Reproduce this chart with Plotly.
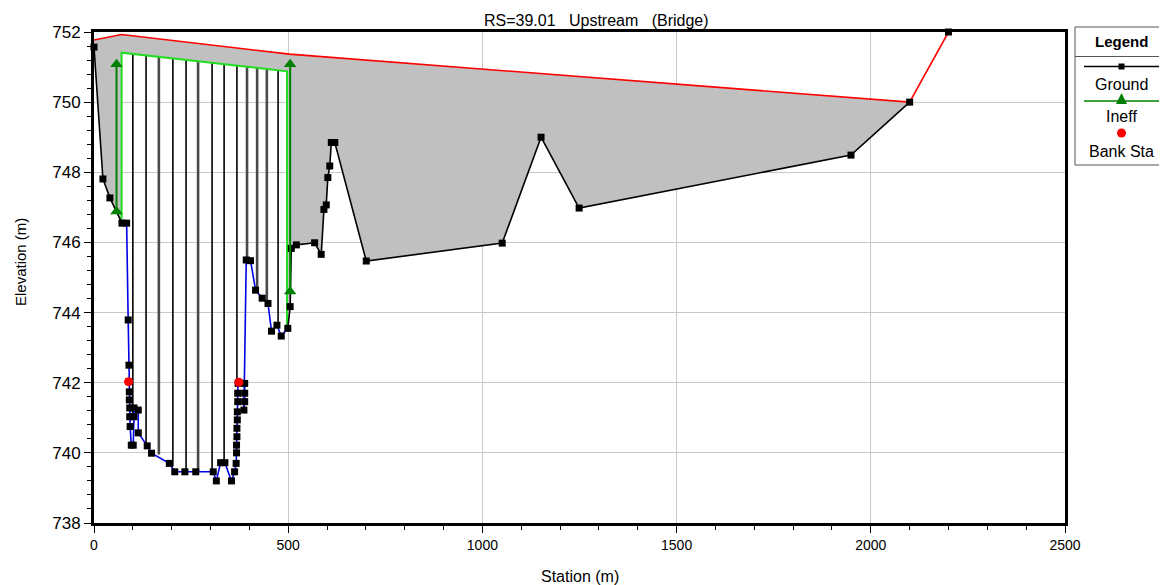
import numpy as np
import plotly.graph_objects as go

# ---------------- data ----------------
ground_station = [0, 23, 41, 72, 84, 88, 90, 90, 91, 91, 92, 92, 93, 96, 101, 103, 103,
                  114, 114, 137, 148, 194, 208, 234, 262, 307, 315, 326, 337, 354, 362,
                  366, 367, 367, 368, 368, 369, 369, 370, 370, 371, 373, 388, 388, 388, 386,
                  392, 403, 416, 433, 448, 457, 471, 482, 499, 505, 508, 521, 568, 585,
                  592, 598, 602, 607, 611, 620, 701, 1051, 1151, 1249, 1949, 2100, 2200]
ground_elev = [751.57, 747.81, 747.27, 746.55, 746.55, 743.79, 742.50, 742.03, 741.74, 741.51,
               741.28, 741.03, 740.75, 740.22, 740.22, 741.03, 741.28,
               741.22, 740.57, 740.20, 739.99, 739.70, 739.46, 739.46, 739.46, 739.46, 739.20,
               739.72, 739.72, 739.20, 739.46,
               739.70, 740.00, 740.22, 740.46, 740.70, 740.94, 741.17, 741.46, 741.70, 741.98,
               742.01, 741.98, 741.70, 741.46, 741.22,
               745.50, 745.48, 744.64, 744.41, 744.26, 743.47, 743.64, 743.33, 743.55, 744.17,
               745.83, 745.93, 745.99, 745.66,
               746.94, 747.07, 747.85, 748.18, 748.85, 748.85, 745.47, 745.98, 749.00, 746.98,
               748.49, 750.00, 752.00]

high_chord_station = [0, 71, 503, 2100, 2200]
high_chord_elev = [751.77, 751.93, 751.37, 750.00, 752.00]

low_chord_station = [71, 497]
low_chord_elev = [751.41, 750.88]
low_chord_ground = [746.55, 743.52]

pier_station = [100, 134, 167, 203, 237, 268, 304, 335, 368, 394, 420, 445, 474]
pier_bottom = [741.10, 740.25, 739.95, 739.62, 739.46, 739.46, 739.46, 739.72, 742.03,
               745.50, 744.60, 744.35, 743.60]
pier_thick = [0, 0, 1, 0, 0, 1, 0, 0, 0, 1, 1, 1, 0]

ineff_station = [58, 505]
ineff_bottom = [746.88, 744.60]
ineff_top = [751.08, 751.08]

bank_station = [89, 373]
bank_elev = [742.03, 742.01]

x_ticks = [0, 500, 1000, 1500, 2000, 2500]
y_ticks = [738, 740, 742, 744, 746, 748, 750, 752]

title_text = "RS=39.01\u00a0\u00a0\u00a0Upstream\u00a0\u00a0\u00a0(Bridge)"

# ---------------- figure ----------------
OFF = 8                      # page body margin of the html page
W, H = 1167 - OFF, 585 - OFF
PL, PR, PT, PB = 94, 1065, 32, 523   # plot area in page pixels
ML, MR, MT, MB = PL - OFF, W + OFF - PR, PT - OFF, H + OFF - PB
PW, PH = PR - PL, PB - PT


def px(xp):
    return (xp - PL) / PW


def py(yp):
    return (PB - yp) / PH


gs = np.array(ground_station, float)
ge = np.array(ground_elev, float)
i0 = int(np.argmax(gs >= 72))
i1 = int(np.where(gs <= 499)[0][-1])

fig = go.Figure()

# gray deck fill: high chord on top, ground / low chord underneath
top_x = high_chord_station[:4]
top_y = high_chord_elev[:4]
right_mask = (gs >= 499) & (gs <= 2100)
right_x = list(gs[right_mask][::-1])
right_y = list(ge[right_mask][::-1])
left_mask = gs <= 72
left_x = list(gs[left_mask][::-1])
left_y = list(ge[left_mask][::-1])
poly_x = (top_x + right_x + [low_chord_station[1], low_chord_station[1], low_chord_station[0],
                              low_chord_station[0]] + left_x)
poly_y = (top_y + right_y + [low_chord_ground[1], low_chord_elev[1], low_chord_elev[0],
                              low_chord_ground[0]] + left_y)
fig.add_trace(go.Scatter(x=poly_x, y=poly_y, fill="toself", fillcolor="#C0C0C0",
                         mode="lines", line=dict(width=0), hoverinfo="skip"))

# piers
top_of_pier = np.interp(pier_station, low_chord_station, low_chord_elev)
for thick in (0, 1):
    xs, ys = [], []
    for s, b, t, k in zip(pier_station, pier_bottom, top_of_pier, pier_thick):
        if k == thick:
            xs += [s, s, None]
            ys += [b, t, None]
    fig.add_trace(go.Scatter(x=xs, y=ys, mode="lines", hoverinfo="skip",
                             line=dict(color="#4a4a4a" if thick else "#000000",
                                       width=2.6 if thick else 1.6)))

# low chord (lime)
fig.add_trace(go.Scatter(
    x=[low_chord_station[0], low_chord_station[0], low_chord_station[1], low_chord_station[1]],
    y=[low_chord_ground[0], low_chord_elev[0], low_chord_elev[1], low_chord_ground[1]],
    mode="lines", line=dict(color="#22DD22", width=2), hoverinfo="skip"))

# high chord (red)
fig.add_trace(go.Scatter(x=high_chord_station, y=high_chord_elev, mode="lines",
                         line=dict(color="#FF0000", width=1.6), hoverinfo="skip"))

# ground: black outside the bridge opening, blue under it
fig.add_trace(go.Scatter(x=list(gs[:i0 + 1]), y=list(ge[:i0 + 1]), mode="lines",
                         line=dict(color="black", width=1.6), hoverinfo="skip"))
fig.add_trace(go.Scatter(x=list(gs[i1:-1]), y=list(ge[i1:-1]), mode="lines",
                         line=dict(color="black", width=1.6), hoverinfo="skip"))
fig.add_trace(go.Scatter(x=list(gs[i0:i1 + 1]), y=list(ge[i0:i1 + 1]), mode="lines",
                         line=dict(color="#0000E6", width=1.6), hoverinfo="skip"))
fig.add_trace(go.Scatter(x=ground_station, y=ground_elev, mode="markers", cliponaxis=False,
                         marker=dict(symbol="square", size=7, color="black"),
                         hoverinfo="skip"))

# ineffective flow
for s, b, t in zip(ineff_station, ineff_bottom, ineff_top):
    fig.add_trace(go.Scatter(x=[s, s], y=[b, t], mode="lines+markers",
                             line=dict(color="#008000", width=2),
                             marker=dict(symbol="triangle-up", size=11, color="#008000"),
                             hoverinfo="skip"))

# bank stations
fig.add_trace(go.Scatter(x=bank_station, y=bank_elev, mode="markers",
                         marker=dict(symbol="circle", size=9, color="#FF0000"),
                         hoverinfo="skip"))

# ---------------- custom legend (symbol above label) ----------------
shapes = []
annotations = []
LX0, LX1, LY0, LY1 = 1075, 1165, 27, 165
shapes.append(dict(type="rect", xref="paper", yref="paper", x0=px(LX0), x1=px(LX1),
                   y0=py(LY1), y1=py(LY0), line=dict(color="#555555", width=1),
                   fillcolor="white", layer="above"))
shapes.append(dict(type="line", xref="paper", yref="paper", x0=px(LX0), x1=px(LX1),
                   y0=py(56.5), y1=py(56.5), line=dict(color="#555555", width=1)))
cx = 1121.5
# ground sample
shapes.append(dict(type="line", xref="paper", yref="paper", x0=px(1084), x1=px(1159),
                   y0=py(66.5), y1=py(66.5), line=dict(color="black", width=1.5)))
shapes.append(dict(type="rect", xref="paper", yref="paper", x0=px(cx - 3), x1=px(cx + 3),
                   y0=py(69.5), y1=py(63.5), line=dict(width=0), fillcolor="black"))
# ineff sample
shapes.append(dict(type="line", xref="paper", yref="paper", x0=px(1084), x1=px(1159),
                   y0=py(101), y1=py(101), line=dict(color="#008000", width=1.5)))
shapes.append(dict(type="path", xref="paper", yref="paper",
                   path=f"M {px(cx - 5.5)},{py(104)} L {px(cx + 5.5)},{py(104)} L {px(cx)},{py(93)} Z",
                   line=dict(width=0), fillcolor="#008000"))
# bank sample
shapes.append(dict(type="circle", xref="paper", yref="paper", x0=px(cx - 4.5), x1=px(cx + 4.5),
                   y0=py(137.5), y1=py(128.5), line=dict(width=0), fillcolor="#FF0000"))

FONT = "Arial, Liberation Sans, sans-serif"
lab_font = dict(family=FONT, size=16, color="black")
annotations.append(dict(text="<b>Legend</b>", xref="paper", yref="paper", x=px(cx), y=py(41.5),
                        showarrow=False, xanchor="center", yanchor="middle",
                        font=dict(family=FONT, size=15, color="black")))
for txt, yp in (("Ground", 84), ("Ineff", 117), ("Bank Sta", 151)):
    annotations.append(dict(text=txt, xref="paper", yref="paper", x=px(cx), y=py(yp),
                            showarrow=False, xanchor="center", yanchor="middle",
                            font=lab_font))

# title and axis titles
annotations.append(dict(text=title_text, xref="paper", yref="paper", x=px(596), y=py(20),
                        showarrow=False, xanchor="center", yanchor="middle",
                        font=dict(family=FONT, size=16, color="black")))
annotations.append(dict(text="Station (m)", xref="paper", yref="paper", x=px(580), y=py(576),
                        showarrow=False, xanchor="center", yanchor="middle",
                        font=dict(family=FONT, size=16, color="black")))
annotations.append(dict(text="Elevation (m)", xref="paper", yref="paper", x=px(20), y=py(262),
                        showarrow=False, xanchor="center", yanchor="middle", textangle=-90,
                        font=dict(family=FONT, size=15, color="black")))

fig.update_layout(
    width=W, height=H, autosize=False,
    margin=dict(l=ML, r=MR, t=MT, b=MB, pad=0),
    paper_bgcolor="white", plot_bgcolor="white",
    showlegend=False,
    shapes=shapes, annotations=annotations,
    font=dict(family=FONT, color="black"),
    xaxis=dict(range=[0, 2500], tickvals=x_ticks, ticktext=[str(v) for v in x_ticks],
               showgrid=True, gridcolor="#C8C8C8", gridwidth=1, zeroline=False,
               showline=True, linecolor="black", linewidth=3, mirror=True,
               ticks="outside", ticklen=7, tickwidth=1, tickcolor="black",
               tickfont=dict(size=14), automargin=False,
               minor=dict(ticks="outside", ticklen=4, dtick=100, tick0=0,
                          tickcolor="black", showgrid=False)),
    yaxis=dict(range=[738, 752], tickvals=y_ticks, ticktext=[str(v) for v in y_ticks],
               showgrid=True, gridcolor="#C8C8C8", gridwidth=1, zeroline=False,
               showline=True, linecolor="black", linewidth=3, mirror=True,
               ticks="outside", ticklen=7, tickwidth=1, tickcolor="black",
               tickfont=dict(size=17), automargin=False,
               minor=dict(ticks="outside", ticklen=4, dtick=0.4, tick0=738,
                          tickcolor="black", showgrid=False)),
)

fig.write_html("out.html")
